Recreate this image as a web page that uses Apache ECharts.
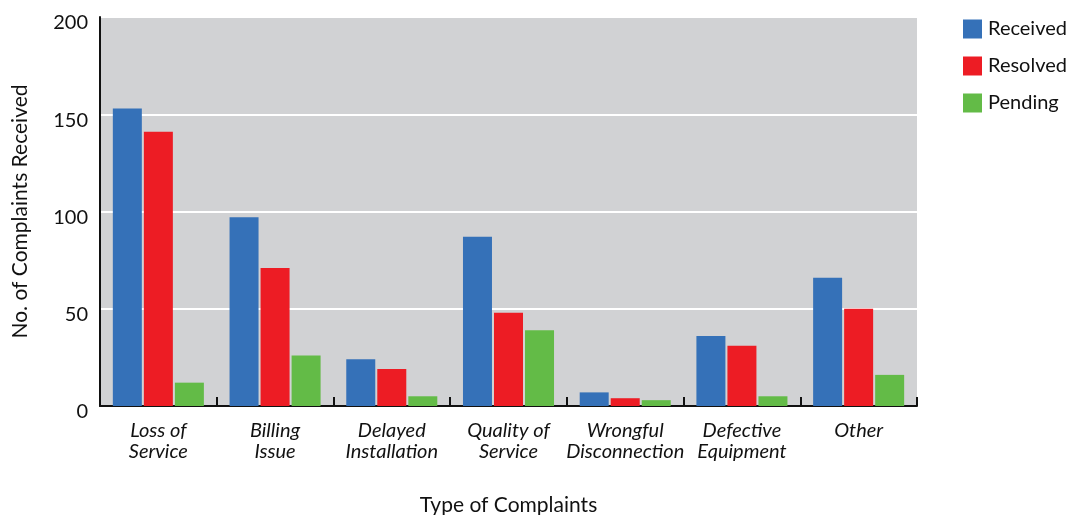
<!DOCTYPE html>
<html>
<head>
<meta charset="utf-8">
<script src="https://cdn.jsdelivr.net/npm/echarts@6/dist/echarts.min.js"></script>
<style>
  html, body { margin: 0; padding: 0; background: #fff; }
  #chart { width: 1069px; height: 515px; }
</style>
</head>
<body>
<div id="chart"></div>
<script>
// complaint types, \n splits the two label lines
const categories = ['Loss of\nService', 'Billing\nIssue', 'Delayed\nInstallation', 'Quality of\nService', 'Wrongful\nDisconnection', 'Defective\nEquipment', 'Other']
const received = [153, 97, 24, 87, 7, 36, 66]
const resolved = [141, 71, 19, 48, 4, 31, 50]
const pending = [12, 26, 5, 39, 3, 5, 16]

const font = 'Lato, "Open Sans", sans-serif'
const chart = echarts.init(document.getElementById('chart'))

chart.setOption({
    textStyle: { fontFamily: font },
    color: ['#3571B8', '#ED1C24', '#63BB47'],
    legend: {
        orient: 'vertical',
        left: 958,
        top: 14,
        icon: 'rect',
        itemWidth: 19,
        itemHeight: 19,
        itemGap: 17,
        textStyle: { fontSize: 20, color: '#111', fontFamily: font, padding: [0, 0, 0, 1] },
        data: ['Received', 'Resolved', 'Pending']
    },
    grid: {
        left: 100,
        right: 152,
        top: 17,
        bottom: 109,
        containLabel: false,
        outerBoundsMode: 'none',
        show: true,
        backgroundColor: '#D1D2D4',
        borderWidth: 0
    },
    xAxis: {
        type: 'category',
        data: categories,
        name: 'Type of Complaints',
        nameLocation: 'middle',
        nameGap: 89,
        nameTextStyle: { fontSize: 21, color: '#111', fontFamily: font },
        axisLine: { lineStyle: { color: '#111', width: 2 } },
        axisTick: { show: true, inside: true, length: 9, lineStyle: { color: '#111', width: 2 } },
        axisLabel: {
            margin: 14,
            fontSize: 20,
            lineHeight: 21,
            fontStyle: 'italic',
            color: '#111',
            fontFamily: font,
            interval: 0
        }
    },
    yAxis: {
        type: 'value',
        min: 0,
        max: 200,
        interval: 50,
        name: 'No. of Complaints Received',
        nameLocation: 'middle',
        nameGap: 69,
        nameTextStyle: { fontSize: 21, color: '#111', fontFamily: font },
        axisLine: { show: true, lineStyle: { color: '#111', width: 2 } },
        axisTick: { show: false },
        // labels sit a little below their gridlines in the original
        axisLabel: { fontSize: 20, color: '#111', margin: 12, verticalAlign: 'top', lineHeight: 12, fontFamily: font },
        splitLine: { lineStyle: { color: '#fff', width: 2 } }
    },
    series: [
        { name: 'Received', type: 'bar', data: received, barGap: '7%', barCategoryGap: '22%' },
        { name: 'Resolved', type: 'bar', data: resolved },
        { name: 'Pending', type: 'bar', data: pending }
    ]
})
</script>
</body>
</html>
